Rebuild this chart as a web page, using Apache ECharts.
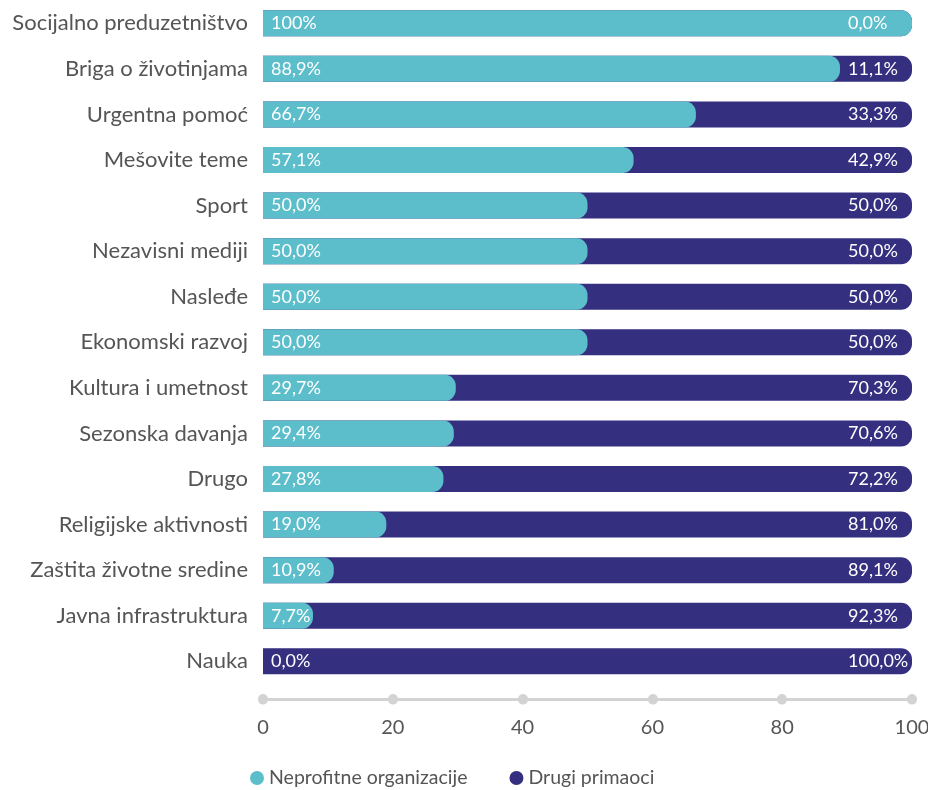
<!DOCTYPE html>
<html>
<head>
<meta charset="utf-8">
<script src="https://cdn.jsdelivr.net/npm/echarts@6/dist/echarts.min.js"></script>
<style>
  html, body { margin: 0; padding: 0; background: #fff; }
  #chart { width: 928px; height: 790px; }
</style>
</head>
<body>
<div id="chart"></div>
<script>
// kategorije, odozgo nadole
const categories = ['Socijalno preduzetništvo', 'Briga o životinjama', 'Urgentna pomoć', 'Mešovite teme', 'Sport',
  'Nezavisni mediji', 'Nasleđe', 'Ekonomski razvoj', 'Kultura i umetnost', 'Sezonska davanja',
  'Drugo', 'Religijske aktivnosti', 'Zaštita životne sredine', 'Javna infrastruktura', 'Nauka'];
// udeo neprofitnih organizacija (%)
const neprofitne = [100, 88.9, 66.7, 57.1, 50.0, 50.0, 50.0, 50.0, 29.7, 29.4, 27.8, 19.0, 10.9, 7.7, 0.0];
// udeo drugih primalaca (%)
const drugi = [0.0, 11.1, 33.3, 42.9, 50.0, 50.0, 50.0, 50.0, 70.3, 70.6, 72.2, 81.0, 89.1, 92.3, 100.0];
const xTicks = [0, 20, 40, 60, 80, 100];

const tealColor = '#5dbecb';
const navyColor = '#352f80';
const textColor = '#555555';
const font = 'Lato, "Open Sans", sans-serif';

// formatiranje sa zarezom
function fmt(v) {
    return v.toFixed(1).replace('.', ',') + '%';
}

// tamna traka ide ispod svetle, od 0 do ukupno
let ukupno = [];
for (let i = 0; i < categories.length; i++) {
    ukupno.push(neprofitne[i] + drugi[i]);
}

var myChart = echarts.init(document.getElementById('chart'));
var option = {
    animation: false,
    grid: { left: 263, right: 16, top: 0.5, height: 683.6, containLabel: false, outerBoundsMode: 'none' },
    legend: {
        data: ['Neprofitne organizacije', 'Drugi primaoci'],
        left: 245,
        top: 763,
        icon: 'circle',
        itemWidth: 14,
        itemHeight: 14,
        itemGap: 42,
        textStyle: { color: textColor, fontSize: 19.5, fontFamily: font }
    },
    xAxis: {
        type: 'value',
        min: 0,
        max: 100,
        interval: 20,
        offset: 15,
        splitLine: { show: false },
        axisLine: { show: true, lineStyle: { color: '#d3d3d3', width: 3 } },
        axisTick: { show: true, length: 0.5, lineStyle: { color: '#d3d3d3', width: 10, cap: 'round' } },
        axisLabel: {
            margin: 18,
            color: textColor,
            fontSize: 20,
            fontFamily: font,
            formatter: function (v) { return xTicks.indexOf(v) >= 0 ? String(v) : ''; }
        }
    },
    yAxis: {
        type: 'category',
        inverse: true,
        data: categories,
        axisLine: { show: false },
        axisTick: { show: false },
        axisLabel: { margin: 15, color: textColor, fontSize: 22, fontFamily: font }
    },
    series: [
        {
            name: 'Drugi primaoci',
            type: 'bar',
            data: ukupno,
            barWidth: 26,
            itemStyle: { color: navyColor, borderRadius: [0, 11, 11, 0] },
            z: 2
        },
        {
            name: 'Neprofitne organizacije',
            type: 'bar',
            data: neprofitne,
            barWidth: 26,
            itemStyle: { color: tealColor, borderRadius: [0, 11, 11, 0] },
            label: {
                show: true,
                position: 'insideLeft',
                distance: 8,
                color: '#fff',
                fontSize: 18,
                fontFamily: font,
                formatter: function (p) { return p.value === 100 ? '100%' : fmt(p.value); }
            },
            z: 3
        },
        {
            // providna traka samo za desne oznake (drugi primaoci)
            name: 'oznake',
            type: 'bar',
            data: ukupno,
            barWidth: 26,
            barGap: '-100%',
            silent: true,
            itemStyle: { color: 'rgba(0,0,0,0)' },
            label: {
                show: true,
                position: 'insideRight',
                distance: 64,
                align: 'left',
                color: '#fff',
                fontSize: 18,
                fontFamily: font,
                formatter: function (p) { return fmt(drugi[p.dataIndex]); }
            },
            z: 4
        }
    ]
};
myChart.setOption(option);
</script>
</body>
</html>
